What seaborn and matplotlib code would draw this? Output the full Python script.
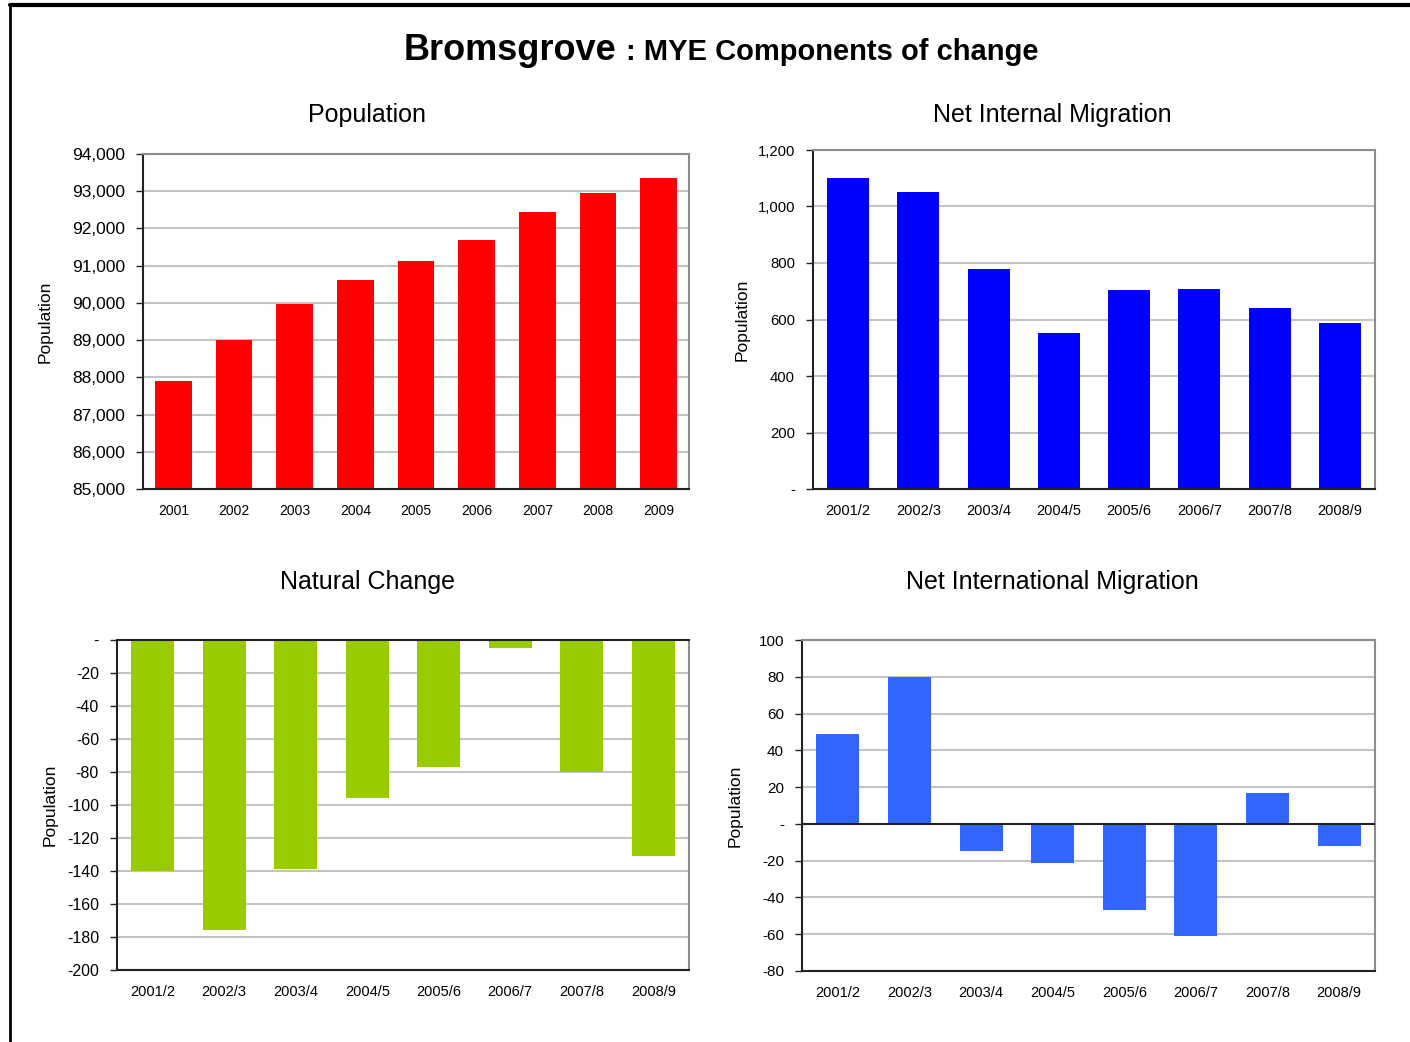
import matplotlib
matplotlib.use("Agg")
import matplotlib.pyplot as plt
from matplotlib.ticker import FuncFormatter, MultipleLocator
from matplotlib.lines import Line2D
import seaborn as sns
import pandas as pd

sns.set_theme(style="white")
plt.rcParams['font.family'] = ['Liberation Sans', 'DejaVu Sans']
plt.rcParams['text.color'] = 'black'
plt.rcParams['axes.labelcolor'] = 'black'
plt.rcParams['xtick.color'] = 'black'
plt.rcParams['ytick.color'] = 'black'

# ---- data ----
years = ["2001", "2002", "2003", "2004", "2005", "2006", "2007", "2008", "2009"]
population = [87905, 89005, 89975, 90615, 91125, 91690, 92445, 92955, 93355]

periods = ["2001/2", "2002/3", "2003/4", "2004/5", "2005/6", "2006/7", "2007/8", "2008/9"]
net_internal = [1101, 1052, 779, 553, 705, 709, 641, 588]
natural_change = [-140, -176, -139, -96, -77, -5, -80, -131]
net_international = [49, 80, -15, -21, -47, -61, 17, -12]

W, H = 1410, 1042
fig = plt.figure(figsize=(W / 100, H / 100), dpi=100)

def px_axes(left, top, right, bottom):
    return fig.add_axes([left / W, 1 - bottom / H, (right - left) / W, (bottom - top) / H])

def fmt(v, pos):
    if abs(v) < 1e-9:
        return "-"
    return f"{v:,.0f}"

DARK = "#222222"
GREY = "#8c8c8c"
GRID = "#c4c4c4"

def style(ax, ytick_size, label_x, ylim, step, top_dark=False):
    ax.set_ylim(*ylim)
    ax.yaxis.set_major_locator(MultipleLocator(step))
    ax.yaxis.set_major_formatter(FuncFormatter(fmt))
    ax.grid(axis="y", color=GRID, linewidth=1.5)
    ax.grid(axis="x", visible=False)
    ax.set_axisbelow(True)
    for s in ["left", "bottom"]:
        ax.spines[s].set_color(DARK)
        ax.spines[s].set_linewidth(1.5)
    for s in ["top", "right"]:
        ax.spines[s].set_color(GREY)
        ax.spines[s].set_linewidth(1.5)
        ax.spines[s].set_visible(True)
    if top_dark:
        ax.spines["top"].set_color(DARK)
    ax.tick_params(axis="y", which="major", left=True, length=5, width=1, color=DARK,
                   labelsize=ytick_size, pad=8, labelcolor="black")
    ax.tick_params(axis="x", bottom=False, length=0, labelsize=10.5, pad=11, labelcolor="black")
    ax.set_xlabel("")
    ax.set_ylabel("Population", fontsize=12.5, color="black")
    ax.yaxis.set_label_coords(label_x, 0.5)

bar_kw = dict(saturation=1, width=0.6, linewidth=0, edgecolor="none")

# Panel 1: Population
ax1 = px_axes(143, 154, 689, 489)
sns.barplot(x=years, y=population, color="#FF0000", ax=ax1, **bar_kw)
style(ax1, 12.5, -0.165, (85000, 94000), 1000)
ax1.tick_params(axis="x", labelsize=10)

# Panel 2: Net Internal Migration
ax2 = px_axes(813, 150, 1375, 489)
sns.barplot(x=periods, y=net_internal, color="#0000FF", ax=ax2, **bar_kw)
style(ax2, 10.7, -0.112, (0, 1200), 200)

# Panel 3: Natural Change
ax3 = px_axes(117, 640, 689, 970)
sns.barplot(x=periods, y=natural_change, color="#99CC00", ax=ax3, **bar_kw)
style(ax3, 11.5, -0.103, (-200, 0), 20, top_dark=True)

# Panel 4: Net International Migration
ax4 = px_axes(802, 640, 1375, 971)
sns.barplot(x=periods, y=net_international, color="#3366FF", ax=ax4, **bar_kw)
style(ax4, 11, -0.103, (-80, 100), 20)
ax4.axhline(0, color=DARK, linewidth=1.5, zorder=3)

# Subplot titles
def ftext(x, y, s, **kw):
    fig.text(x / W, 1 - y / H, s, **kw)

ftext(367, 115, "Population", ha="center", va="center", fontsize=18)
ftext(1052, 115, "Net Internal Migration", ha="center", va="center", fontsize=18)
ftext(367, 582, "Natural Change", ha="center", va="center", fontsize=18)
ftext(1052, 582, "Net International Migration", ha="center", va="center", fontsize=18)

# Main title
ftext(616, 60, "Bromsgrove", ha="right", va="baseline", fontsize=26, fontweight="bold")
ftext(626, 60, ": MYE Components of change", ha="left", va="baseline", fontsize=21,
      fontweight="bold")

# Outer frame (top and left edges)
fig.add_artist(Line2D([10 / W, 1.0], [1 - 5 / H, 1 - 5 / H], color="black", linewidth=3,
                      transform=fig.transFigure))
fig.add_artist(Line2D([10 / W, 10 / W], [1 - 5 / H, 0.0], color="black", linewidth=2,
                      transform=fig.transFigure))

fig.savefig("out.png", dpi=100, facecolor="white")
